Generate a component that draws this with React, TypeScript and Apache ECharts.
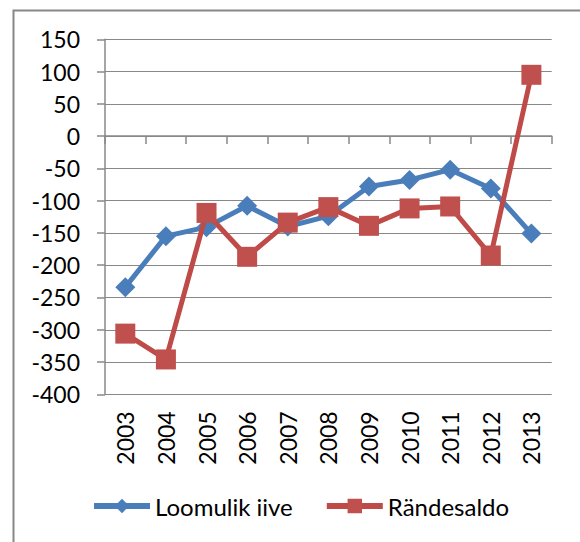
import React, { useEffect, useRef } from "react";
import * as echarts from "echarts";

const years = ["2003", "2004", "2005", "2006", "2007", "2008", "2009", "2010", "2011", "2012", "2013"];
const loomulikIive = [-234, -155, -141, -108, -140, -124, -78, -68, -52, -81, -151];
const randesaldo = [-306, -346, -119, -187, -134, -110, -139, -112, -109, -185, 95];
const yTicks = { min: -400, max: 150, interval: 50 };

const FONT = "Lato";
const GREY = "#888888";
const BLUE = "#4A7EBB";
const RED = "#C0504D";

export default function App() {
  const ref = useRef<HTMLDivElement>(null);
  useEffect(() => {
    const chart = echarts.init(ref.current!, null, { renderer: "svg" });
    chart.setOption({
      animation: false,
      backgroundColor: "#ffffff",
      textStyle: { fontFamily: FONT },
      graphic: [
        {
          type: "rect",
          shape: { x: 13.5, y: 10.5, width: 700, height: 700 },
          style: { fill: "none", stroke: GREY, lineWidth: 2 },
          silent: true,
        },
      ],
      grid: { left: 105, top: 39.3, right: 28.3, bottom: 147.7, containLabel: false },
      legend: {
        left: 91,
        top: 494,
        padding: 0,
        itemWidth: 56,
        itemHeight: 18,
        itemGap: 31,
        textStyle: { fontFamily: FONT, fontSize: 24, color: "#000" },
        data: [
          { name: "Loomulik iive", lineStyle: { width: 6, color: BLUE } },
          { name: "Rändesaldo", lineStyle: { width: 6, color: "#BE4B48" } },
        ],
      },
      xAxis: [
        {
          type: "category",
          data: years,
          boundaryGap: true,
          axisLine: { show: false, onZero: false },
          axisTick: { show: false },
          axisLabel: { rotate: 90, fontSize: 23, color: "#000", fontFamily: FONT, margin: 17 },
          splitLine: { show: false },
        },
        {
          type: "category",
          data: years,
          position: "bottom",
          boundaryGap: true,
          axisLine: { show: true, onZero: true, lineStyle: { color: GREY, width: 1.5 } },
          axisTick: { show: true, length: 8, lineStyle: { color: GREY, width: 1.5 } },
          axisLabel: { show: false },
          splitLine: { show: false },
        },
      ],
      yAxis: {
        type: "value",
        min: yTicks.min,
        max: yTicks.max,
        interval: yTicks.interval,
        axisLine: { show: true, lineStyle: { color: GREY, width: 1.5 } },
        axisTick: { show: true, length: 8, lineStyle: { color: GREY, width: 1.5 } },
        axisLabel: { fontSize: 23, color: "#000", fontFamily: FONT, margin: 25 },
        splitLine: { show: true, lineStyle: { color: GREY, width: 1.2 } },
      },
      series: [
        {
          name: "Loomulik iive",
          type: "line",
          data: loomulikIive,
          symbol: "diamond",
          symbolSize: 20,
          lineStyle: { color: BLUE, width: 5 },
          itemStyle: { color: BLUE },
          z: 2,
        },
        {
          name: "Rändesaldo",
          type: "line",
          data: randesaldo,
          symbol: "rect",
          symbolSize: 20,
          lineStyle: { color: "#BE4B48", width: 5 },
          itemStyle: { color: RED },
          z: 3,
        },
      ],
    });
    return () => chart.dispose();
  }, []);
  return (
    <div
      ref={ref}
      style={{ position: "fixed", left: 0, top: 0, width: 580, height: 542, background: "#fff" }}
    />
  );
}
